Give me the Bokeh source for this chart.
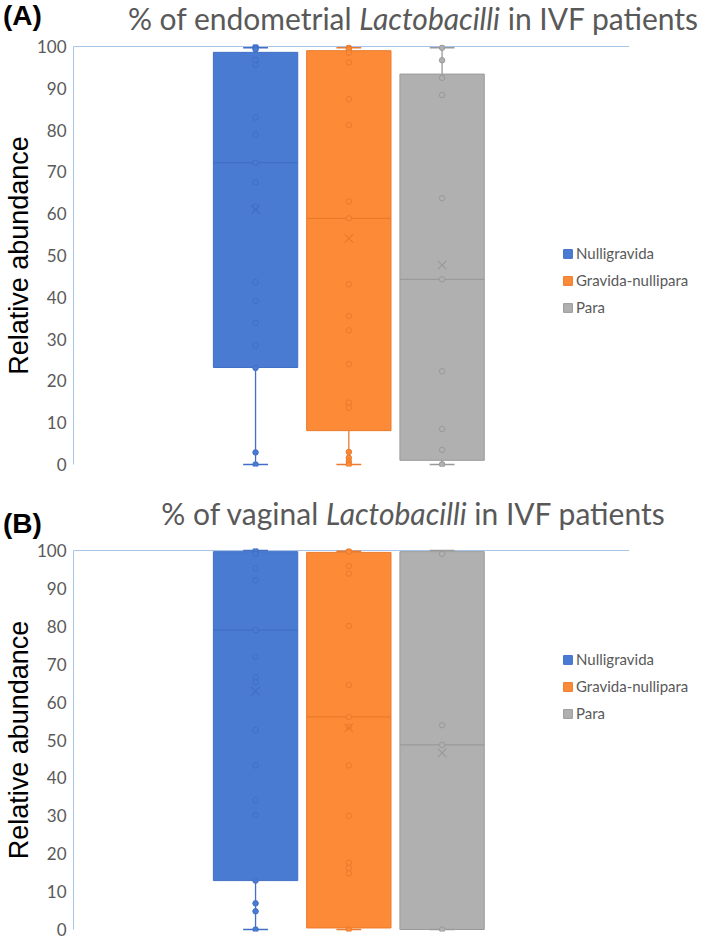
from bokeh.plotting import figure
from bokeh.models import Range1d, ColumnDataSource, Legend, LegendItem, FixedTicker, Div
from bokeh.layouts import column
from bokeh.embed import file_html
from bokeh.resources import INLINE

# ---------------- data ----------------
groups = ["Nulligravida", "Gravida-nullipara", "Para"]
y_ticks = [0, 10, 20, 30, 40, 50, 60, 70, 80, 90, 100]

# Panel A: endometrial
A_q1 = [23.2, 8.1, 1.0]
A_median = [72.2, 58.9, 44.3]
A_q3 = [98.6, 99.0, 93.4]
A_mean = [61.0, 54.1, 47.7]
A_whisk_lo = [0.0, 0.0, 0.0]
A_whisk_hi = [99.7, 99.7, 99.7]
A_pts_nulli = [100.0, 99.7, 99.3, 96.8, 95.6, 83.0, 78.9, 72.2, 67.5, 61.7,
               43.6, 39.2, 33.9, 28.5, 23.1, 2.9, 0.0]
A_pts_gravnull = [99.7, 99.4, 98.5, 96.2, 87.4, 81.2, 62.9, 58.9, 43.1, 35.5,
                  32.1, 24.0, 14.8, 13.6, 3.0, 1.6, 0.7, 0.0]
A_pts_para = [99.7, 96.7, 92.5, 88.4, 63.7, 44.3, 22.3, 8.5, 3.5, 0.0, 0.0]

# Panel B: vaginal
B_q1 = [12.9, 0.4, 0.0]
B_median = [79.0, 56.1, 48.7]
B_q3 = [99.7, 99.5, 99.7]
B_mean = [62.9, 53.2, 46.6]
B_whisk_lo = [0.0, 0.0, 0.0]
B_whisk_hi = [100.0, 99.8, 100.0]
B_pts_nulli = [100.0, 99.1, 95.3, 92.1, 79.0, 72.0, 66.5, 65.2, 52.6, 43.3,
               34.1, 30.2, 12.9, 6.9, 4.8, 0.0]
B_pts_gravnull = [99.8, 99.7, 95.9, 93.9, 80.1, 64.5, 56.1, 53.5, 43.3, 30.0,
                  17.6, 16.2, 14.8, 0.0]
B_pts_para = [99.1, 53.9, 48.7, 0.0]

# ---------------- style / geometry ----------------
FILL = ["#4A7BD3", "#FD8A36", "#B0B0B0"]
LINE = ["#416FC4", "#E97B2E", "#9A9A9A"]
AXIS_BLUE = "#A9C4EA"
GREY_TXT = "#595959"
FONT = "Lato"

W = 709
LEFT = 68                       # frame left (px)
UNIT = 94.0                     # px per category slot
X_START = -1.952                # range start in category units
X_END = X_START + (W - LEFT) / UNIT
AREA_END = X_START + (628 - LEFT) / UNIT   # end of Excel plot area (gridline)
BOX_W = 85 / UNIT
CAP_W = 25 / UNIT
xs = list(range(len(groups)))


def title_div(height, letter, letter_cy, pre, ital, post, cx, cy):
    html = (
        f'<div style="position:relative;width:{W}px;height:{height}px;overflow:visible;">'
        f'<span style="position:absolute;left:3px;top:{letter_cy - 16}px;'
        f'line-height:32px;font-family:\'Liberation Sans\';font-weight:bold;'
        f'font-size:28px;color:#000;white-space:nowrap;">{letter}</span>'
        f'<span style="position:absolute;left:{cx}px;top:{cy - 20}px;'
        f'transform:translateX(-50%);line-height:40px;font-family:{FONT};'
        f'font-size:30px;color:{GREY_TXT};white-space:nowrap;">'
        f'{pre} <i>{ital}</i> {post}</span></div>'
    )
    return Div(text=html, width=W, height=height, margin=0)


def panel(q1, med, q3, mean, wlo, whi, pts, ppu, height, top, bottom, legend_top):
    pad = 2.0 / ppu
    p = figure(width=W, height=height, output_backend="svg", toolbar_location=None,
               x_range=Range1d(X_START, X_END),
               y_range=Range1d(y_ticks[0] - pad, y_ticks[-1] + pad),
               x_axis_location=None,
               min_border_left=LEFT, min_border_right=0,
               min_border_top=top, min_border_bottom=bottom)
    p.outline_line_color = None
    p.xgrid.visible = False
    p.ygrid.visible = False

    ax = p.yaxis[0]
    ax.ticker = FixedTicker(ticks=y_ticks)
    ax.bounds = (y_ticks[0], y_ticks[-1])
    ax.axis_line_color = AXIS_BLUE
    ax.major_tick_line_color = None
    ax.minor_tick_line_color = None
    ax.major_tick_out = 0
    ax.major_tick_in = 0
    ax.major_label_text_color = GREY_TXT
    ax.major_label_text_font = FONT
    ax.major_label_text_font_size = "17px"
    ax.major_label_standoff = 7
    ax.axis_label = "Relative abundance"
    ax.axis_label_text_font = "Liberation Sans"
    ax.axis_label_text_font_style = "normal"
    ax.axis_label_text_font_size = "27px"
    ax.axis_label_text_color = "black"
    ax.axis_label_standoff = 0

    # top gridline of the plot area
    p.segment(x0=[X_START], x1=[AREA_END], y0=[y_ticks[-1]], y1=[y_ticks[-1]],
              line_color=AXIS_BLUE, line_width=1)

    src = ColumnDataSource(dict(x=xs, g=groups, q1=q1, med=med, q3=q3, mean=mean,
                                wlo=wlo, whi=whi, fill=FILL, line=LINE,
                                bl=[x - BOX_W / 2 for x in xs],
                                br=[x + BOX_W / 2 for x in xs],
                                cl=[x - CAP_W / 2 for x in xs],
                                cr=[x + CAP_W / 2 for x in xs]))
    boxes = p.vbar(x="x", top="q3", bottom="q1", width=BOX_W, source=src,
                   fill_color="fill", line_color="line", line_width=1)
    p.segment(x0="bl", y0="med", x1="br", y1="med", line_color="line",
              line_width=1.2, source=src)
    p.segment(x0="x", y0="q3", x1="x", y1="whi", line_color="line",
              line_width=1.3, source=src)
    p.segment(x0="x", y0="q1", x1="x", y1="wlo", line_color="line",
              line_width=1.3, source=src)
    for col in ("whi", "wlo"):
        p.segment(x0="cl", y0=col, x1="cr", y1=col, line_color="line",
                  line_width=1.3, source=src)
    for x, vals, fc, lc in zip(xs, pts, FILL, LINE):
        ps = ColumnDataSource(dict(x=[x] * len(vals), v=vals))
        p.scatter(x="x", y="v", source=ps, marker="circle", size=5.5,
                  fill_color=fc, line_color=lc, line_width=1)
    p.scatter(x="x", y="mean", source=src, marker="x", size=12,
              line_color="line", line_width=1.3)

    frame_h = height - top - bottom
    items = [LegendItem(label=g, renderers=[boxes], index=i)
             for i, g in enumerate(groups)]
    leg_h = 3 * 20 + 2 * 7
    leg = Legend(items=items,
                 location=(557 - LEFT, frame_h + top - (legend_top + leg_h)),
                 padding=0, margin=0, spacing=7, label_height=20,
                 glyph_width=11, glyph_height=11, label_standoff=3,
                 border_line_color=None, background_fill_alpha=0,
                 label_text_font=FONT, label_text_font_size="15px",
                 label_text_color=GREY_TXT)
    p.add_layout(leg)
    return p


# Panel A (page y 0..490)
tA = title_div(36, "(A)", 16, "% of endometrial", "Lactobacilli", "in IVF patients", 413, 18)
pA = panel(A_q1, A_median, A_q3, A_mean, A_whisk_lo, A_whisk_hi,
           [A_pts_nulli, A_pts_gravnull, A_pts_para],
           ppu=4.18, height=454, top=8, bottom=24, legend_top=243 - 36)

# Panel B (page y 490..940)
tB = title_div(50, "(B)", 34, "% of vaginal", "Lactobacilli", "in IVF patients", 413, 23)
pB = panel(B_q1, B_median, B_q3, B_mean, B_whisk_lo, B_whisk_hi,
           [B_pts_nulli, B_pts_gravnull, B_pts_para],
           ppu=3.79, height=400, top=8, bottom=9, legend_top=649 - 540)

layout = column(tA, pA, tB, pB, spacing=0)
open("out.html", "w").write(file_html(layout, INLINE))
